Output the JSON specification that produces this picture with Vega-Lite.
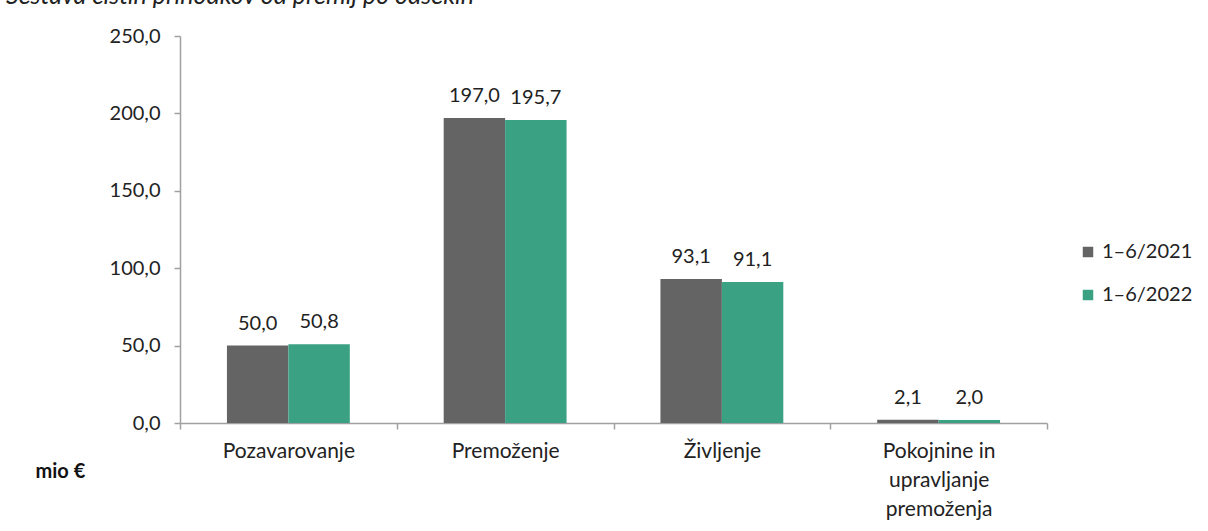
{
  "$schema": "https://vega.github.io/schema/vega-lite/v6.json",
  "width": 867,
  "height": 387,
  "autosize": {"type": "none"},
  "padding": {"left": 180, "top": 36, "right": 161, "bottom": 108},
  "background": "white",
  "config": {
    "locale": {"number": {"decimal": ",", "thousands": ".", "grouping": [3], "currency": ["", " €"]}},
    "view": {"stroke": null},
    "font": "Lato"
  },
  "title": {
    "text": "Sestava čistih prihodkov od premij po odsekih",
    "anchor": "start",
    "frame": "group",
    "dx": -174,
    "dy": 22,
    "offset": 19,
    "baseline": "alphabetic",
    "fontStyle": "italic",
    "fontWeight": "normal",
    "fontSize": 25,
    "color": "#222222"
  },
  "data": {
    "values": [
      {"odsek": "Pozavarovanje", "obdobje": "1–6/2021", "vrednost": 50.0},
      {"odsek": "Pozavarovanje", "obdobje": "1–6/2022", "vrednost": 50.8},
      {"odsek": "Premoženje", "obdobje": "1–6/2021", "vrednost": 197.0},
      {"odsek": "Premoženje", "obdobje": "1–6/2022", "vrednost": 195.7},
      {"odsek": "Življenje", "obdobje": "1–6/2021", "vrednost": 93.1},
      {"odsek": "Življenje", "obdobje": "1–6/2022", "vrednost": 91.1},
      {"odsek": "Pokojnine in upravljanje premoženja", "obdobje": "1–6/2021", "vrednost": 2.1},
      {"odsek": "Pokojnine in upravljanje premoženja", "obdobje": "1–6/2022", "vrednost": 2.0}
    ]
  },
  "encoding": {
    "x": {
      "field": "odsek",
      "type": "nominal",
      "sort": null,
      "scale": {"paddingInner": 0, "paddingOuter": 0},
      "axis": {
        "title": null,
        "labelAngle": 0,
        "tickBand": "extent",
        "domainColor": "#a0a0a0",
        "domainWidth": 1.5,
        "tickColor": "#a0a0a0",
        "tickWidth": 1.5,
        "tickSize": 6,
        "labelFontSize": 21,
        "labelColor": "#222222",
        "labelPadding": 11,
        "labelLineHeight": 29,
        "labelExpr": "datum.value == 'Pokojnine in upravljanje premoženja' ? ['Pokojnine in', 'upravljanje', 'premoženja'] : datum.label"
      }
    },
    "xOffset": {
      "field": "obdobje",
      "type": "nominal",
      "sort": null,
      "scale": {"paddingOuter": 0.764, "paddingInner": 0}
    },
    "y": {
      "field": "vrednost",
      "type": "quantitative",
      "scale": {"domain": [0, 250]},
      "axis": {
        "values": [0, 50, 100, 150, 200, 250],
        "format": ".1f",
        "grid": false,
        "domainColor": "#a0a0a0",
        "domainWidth": 1.5,
        "tickColor": "#a0a0a0",
        "tickWidth": 1.5,
        "tickSize": 6,
        "labelFontSize": 20,
        "labelColor": "#222222",
        "labelPadding": 14,
        "title": "mio €",
        "titleAngle": 0,
        "titleX": -145,
        "titleY": 435,
        "titleAlign": "left",
        "titleBaseline": "middle",
        "titleFontWeight": "bold",
        "titleFontSize": 20,
        "titleColor": "#111111"
      }
    }
  },
  "layer": [
    {
      "mark": {"type": "bar"},
      "encoding": {
        "color": {
          "field": "obdobje",
          "type": "nominal",
          "sort": null,
          "scale": {"domain": ["1–6/2021", "1–6/2022"], "range": ["#646464", "#3BA183"]},
          "legend": {
            "title": null,
            "orient": "none",
            "legendX": 898,
            "legendY": 206,
            "symbolType": "square",
            "symbolSize": 110,
            "symbolStrokeWidth": 0,
            "labelFontSize": 20,
            "labelColor": "#222222",
            "labelOffset": 4,
            "rowPadding": 23
          }
        }
      }
    },
    {
      "mark": {"type": "text", "baseline": "alphabetic", "dy": -16, "fontSize": 20, "color": "#222222"},
      "encoding": {
        "text": {"field": "vrednost", "type": "quantitative", "format": ".1f"}
      }
    }
  ]
}
